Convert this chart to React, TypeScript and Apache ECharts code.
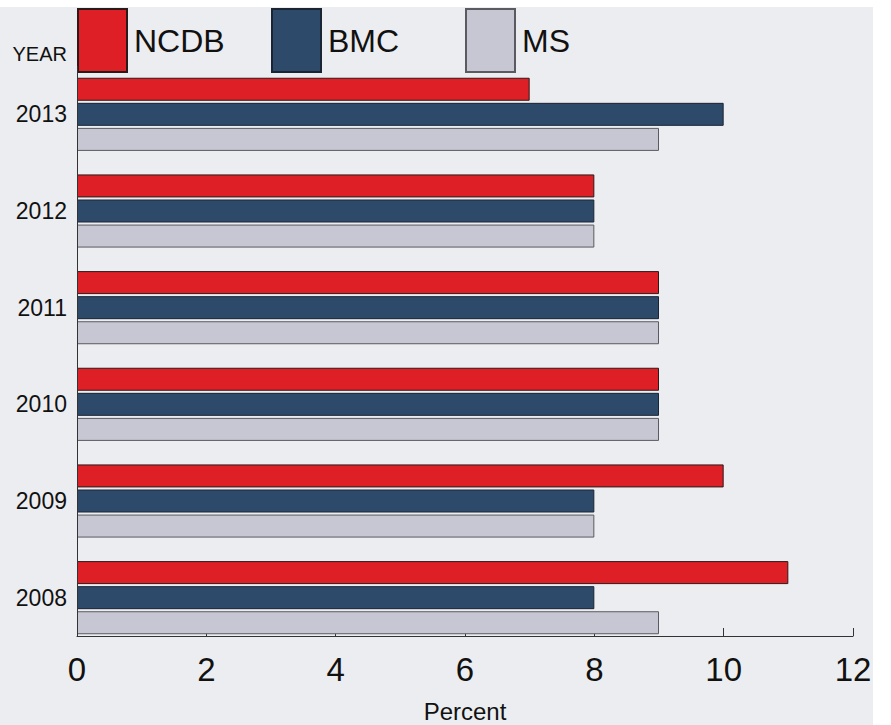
import React, { useEffect, useRef } from "react";
import * as echarts from "echarts";

const years = ["2013", "2012", "2011", "2010", "2009", "2008"];
const ncdb = [7, 8, 9, 9, 10, 11];
const bmc = [10, 8, 9, 9, 8, 8];
const ms = [9, 8, 9, 9, 8, 9];
const seriesNames = ["NCDB", "BMC", "MS"];
const xTicks = { min: 0, max: 12, interval: 2 };

export default function App() {
  const ref = useRef<HTMLDivElement>(null);
  useEffect(() => {
    if (!ref.current) return;
    const chart = echarts.init(ref.current, null, { renderer: "svg" });
    const font = "'Liberation Sans', Arial, sans-serif";
    const mkSeries = (name: string, data: number[], color: string, border: string) => ({
      name,
      type: "bar",
      data,
      barWidth: 23,
      barGap: "9%",
      itemStyle: { color, borderColor: border, borderWidth: 1 },
    });
    const legendLefts = [77, 271, 465];
    chart.setOption({
      animation: false,
      textStyle: { fontFamily: font },
      graphic: [
        {
          type: "rect",
          z: -10,
          silent: true,
          shape: { x: 0, y: 7, width: 873, height: 718 },
          style: { fill: "#ecedf0" },
        },
        {
          type: "line",
          z: 10,
          silent: true,
          shape: { x1: 77.5, y1: 66, x2: 77.5, y2: 636 },
          style: { stroke: "#333", lineWidth: 1 },
        },
        {
          type: "text",
          z: 10,
          x: 67,
          y: 54,
          style: {
            text: "YEAR",
            fontFamily: font,
            fontSize: 20,
            fill: "#111",
            align: "right",
            verticalAlign: "middle",
          },
        },
      ],
      legend: seriesNames.map((n, i) => ({
        data: [n],
        left: legendLefts[i],
        top: 8,
        padding: 0,
        icon: "rect",
        itemWidth: 49,
        itemHeight: 63,
        itemGap: 0,
        textStyle: {
          fontFamily: font,
          fontSize: 32,
          color: "#111",
          padding: [4, 0, 0, 2],
        },
      })),
      grid: {
        left: 77,
        right: 38,
        top: 66,
        bottom: 79,
        containLabel: false,
        outerBoundsMode: "none",
      },
      xAxis: {
        type: "value",
        min: xTicks.min,
        max: xTicks.max,
        interval: xTicks.interval,
        offset: -10,
        name: "Percent",
        nameLocation: "middle",
        nameGap: 63,
        nameTextStyle: { fontFamily: font, fontSize: 24, color: "#111" },
        axisLine: { show: true, lineStyle: { color: "#333", width: 1 } },
        axisTick: { show: true, inside: true, length: 8, lineStyle: { color: "#333" } },
        axisLabel: { fontFamily: font, fontSize: 33, color: "#111", margin: 17 },
        splitLine: { show: false },
      },
      yAxis: {
        type: "category",
        data: years,
        inverse: true,
        axisLine: { show: false },
        axisTick: { show: false },
        axisLabel: { fontFamily: font, fontSize: 23, color: "#111", margin: 10 },
      },
      series: [
        mkSeries("NCDB", ncdb, "#df1f26", "#2a1a1a"),
        mkSeries("BMC", bmc, "#2e4a6b", "#1a2433"),
        mkSeries("MS", ms, "#c7c7d3", "#5a5a60"),
      ],
    });
    return () => chart.dispose();
  }, []);
  return (
    <div
      ref={ref}
      style={{ position: "fixed", left: 0, top: 0, width: 891, height: 725, background: "#fff" }}
    />
  );
}
